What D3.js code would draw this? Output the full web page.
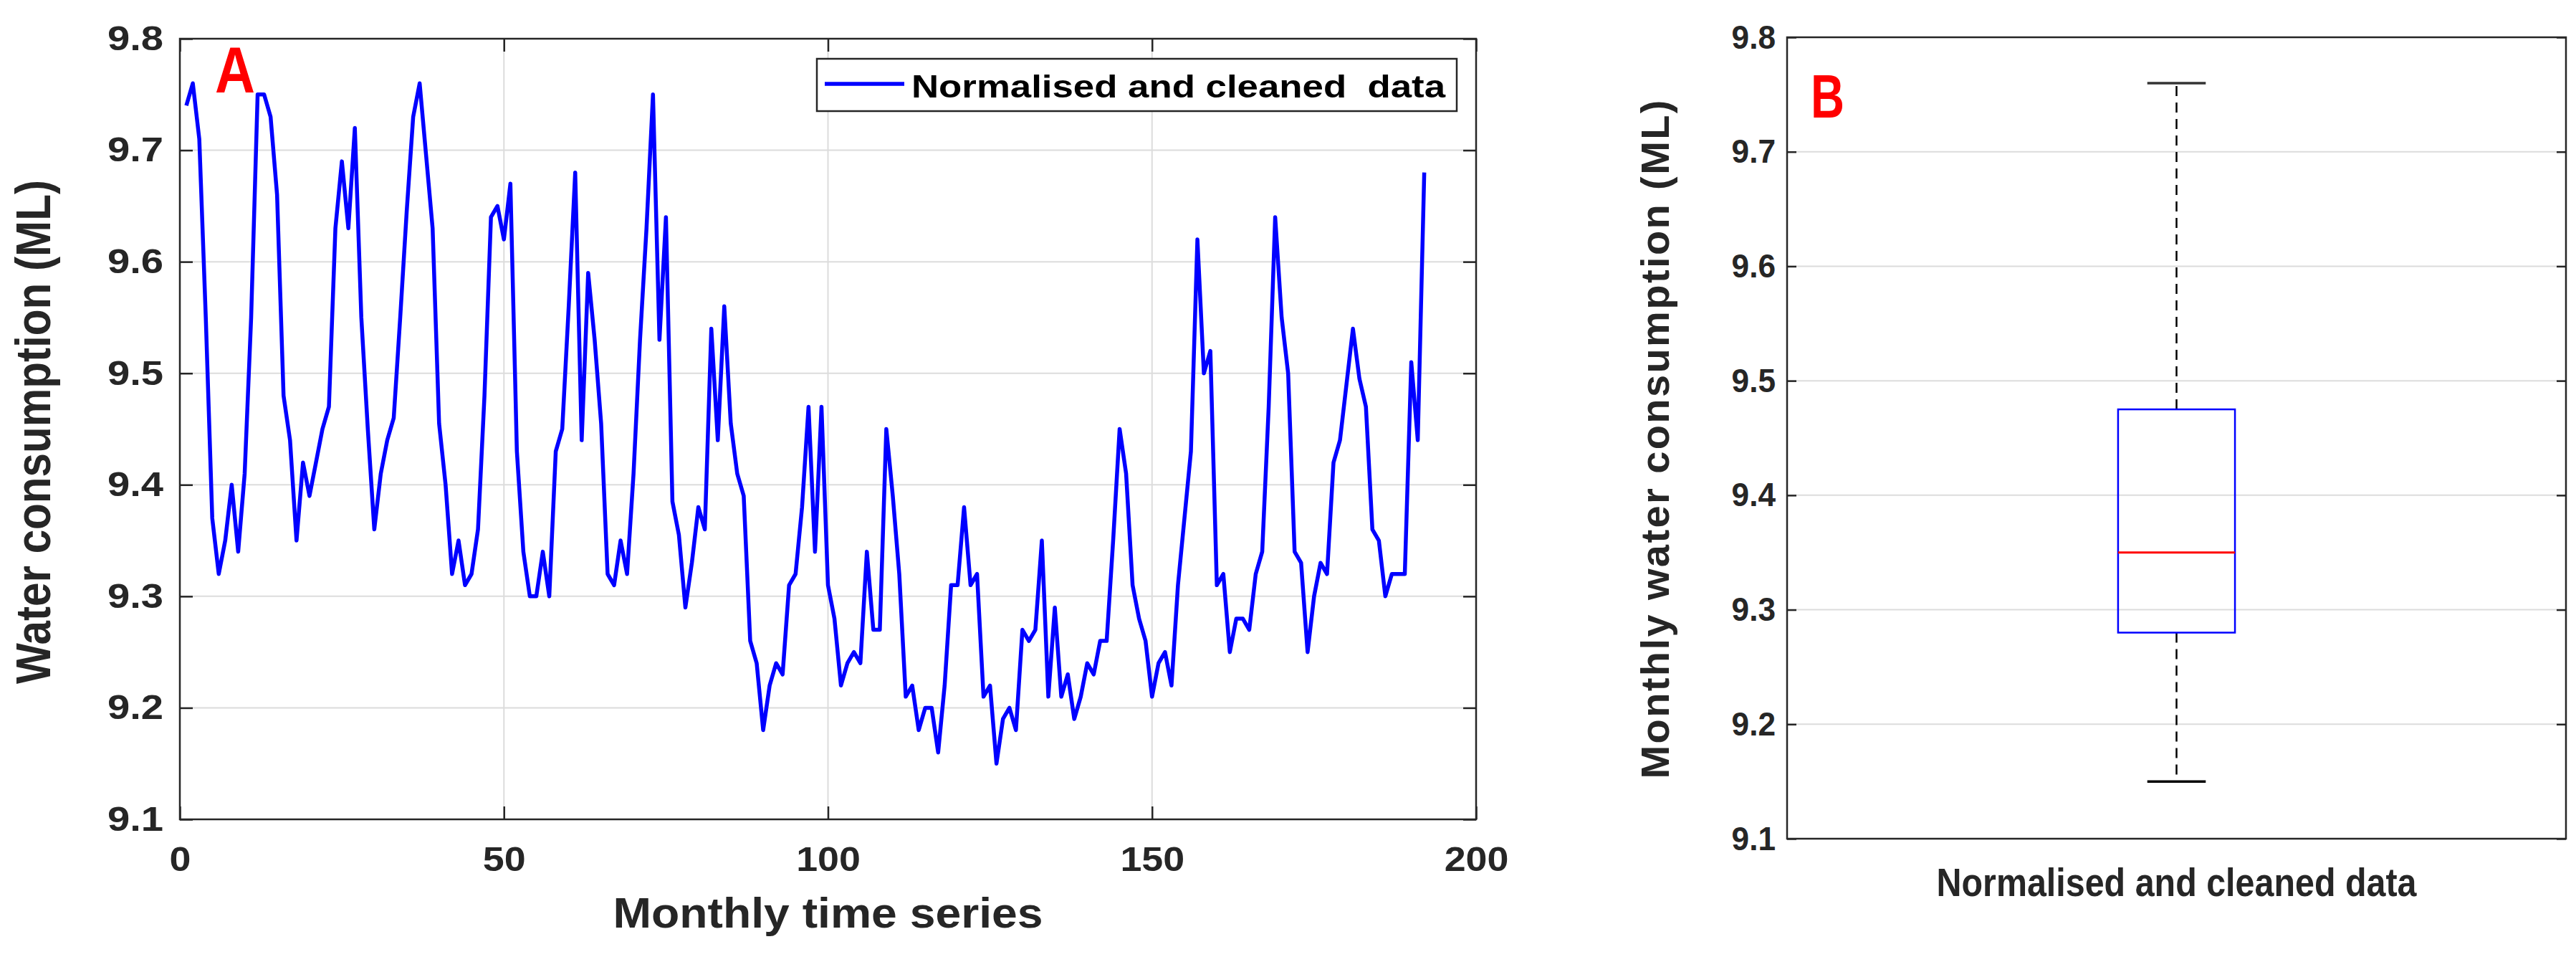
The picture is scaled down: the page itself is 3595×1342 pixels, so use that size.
<!DOCTYPE html>
<html>
<head>
<meta charset="utf-8">
<script src="https://cdn.jsdelivr.net/npm/d3@7"></script>
<style>
  html, body { margin: 0; padding: 0; background: #fff; }
  svg { display: block; }
  text { font-family: "Liberation Sans", Arial, Helvetica, sans-serif; font-weight: bold; }
</style>
</head>
<body>
<svg id="chart" width="3595" height="1342"></svg>
<script>
// ---------------- DATA ----------------
const seriesName = "Normalised and cleaned  data";
const boxCategory = ["Normalised and cleaned data"];
const months = d3.range(1, 193);
const consumption = [
  9.74, 9.76, 9.71, 9.55, 9.37, 9.32, 9.35, 9.40, 9.34, 9.41,
  9.55, 9.75, 9.75, 9.73, 9.66, 9.48, 9.44, 9.35, 9.42, 9.39,
  9.42, 9.45, 9.47, 9.63, 9.69, 9.63, 9.72, 9.55, 9.45, 9.36,
  9.41, 9.44, 9.46, 9.55, 9.645, 9.73, 9.76, 9.695, 9.63, 9.455,
  9.40, 9.32, 9.35, 9.31, 9.32, 9.36, 9.48, 9.64, 9.65, 9.62,
  9.67, 9.43, 9.34, 9.30, 9.30, 9.34, 9.30, 9.43, 9.45, 9.56,
  9.68, 9.44, 9.59, 9.53, 9.455, 9.32, 9.31, 9.35, 9.32, 9.41,
  9.53, 9.63, 9.75, 9.53, 9.64, 9.385, 9.355, 9.29, 9.33, 9.38,
  9.36, 9.54, 9.44, 9.56, 9.455, 9.41, 9.39, 9.26, 9.24, 9.18,
  9.22, 9.24, 9.23, 9.31, 9.32, 9.38, 9.47, 9.34, 9.47, 9.31,
  9.28, 9.22, 9.24, 9.25, 9.24, 9.34, 9.27, 9.27, 9.45, 9.39,
  9.32, 9.21, 9.22, 9.18, 9.20, 9.20, 9.16, 9.22, 9.31, 9.31,
  9.38, 9.31, 9.32, 9.21, 9.22, 9.15, 9.19, 9.20, 9.18, 9.27,
  9.26, 9.27, 9.35, 9.21, 9.29, 9.21, 9.23, 9.19, 9.21, 9.24,
  9.23, 9.26, 9.26, 9.35, 9.45, 9.41, 9.31, 9.28, 9.26, 9.21,
  9.24, 9.25, 9.22, 9.31, 9.37, 9.43, 9.62, 9.50, 9.52, 9.31,
  9.32, 9.25, 9.28, 9.28, 9.27, 9.32, 9.34, 9.47, 9.64, 9.55,
  9.50, 9.34, 9.33, 9.25, 9.30, 9.33, 9.32, 9.42, 9.44, 9.49,
  9.54, 9.495, 9.47, 9.36, 9.35, 9.30, 9.32, 9.32, 9.32, 9.51,
  9.44, 9.68
];
// box plot statistics
const boxMin = [9.15];
const boxQ1 = [9.28];
const boxMedian = [9.35];
const boxQ3 = [9.475];
const boxMax = [9.76];

const xTicksA = [0, 50, 100, 150, 200];
const yTicks = [9.1, 9.2, 9.3, 9.4, 9.5, 9.6, 9.7, 9.8];

// ---------------- STYLE ----------------
const axisColor = "#262626";
const gridColor = "#dcdcdc";
const svg = d3.select("#chart");

function stretch(sel, factor) {
  sel.each(function () {
    const len = this.getComputedTextLength();
    d3.select(this).attr("textLength", len * factor).attr("lengthAdjust", "spacingAndGlyphs");
  });
}
function fit(sel, len, mode) {
  sel.attr("textLength", len).attr("lengthAdjust", mode || "spacingAndGlyphs");
}

// ================= PANEL A =================
const A = { l: 251, r: 2060, t: 54, b: 1143 };
const xA = d3.scaleLinear().domain([0, 200]).range([A.l, A.r]);
const yA = d3.scaleLinear().domain([9.1, 9.8]).range([A.b, A.t]);

const gA = svg.append("g");
// grid
gA.append("g").selectAll("line.gx").data(xTicksA.slice(1, -1)).join("line")
  .attr("x1", d => xA(d)).attr("x2", d => xA(d)).attr("y1", A.t).attr("y2", A.b)
  .attr("stroke", gridColor).attr("stroke-width", 2);
gA.append("g").selectAll("line.gy").data(yTicks.slice(1, -1)).join("line")
  .attr("y1", d => yA(d)).attr("y2", d => yA(d)).attr("x1", A.l).attr("x2", A.r)
  .attr("stroke", gridColor).attr("stroke-width", 2);

// line
gA.append("path")
  .datum(months.map((m, i) => [m, consumption[i]]))
  .attr("fill", "none").attr("stroke", "#0000ff").attr("stroke-width", 5.5)
  .attr("stroke-linejoin", "round")
  .attr("d", d3.line().x(d => xA(d[0])).y(d => yA(d[1])));

// axes
const tickA = 18;
const axB = gA.append("g").attr("transform", `translate(0,${A.b})`)
  .call(d3.axisBottom(xA).tickValues(xTicksA).tickSizeInner(-tickA).tickSizeOuter(0).tickPadding(38));
const axL = gA.append("g").attr("transform", `translate(${A.l},0)`)
  .call(d3.axisLeft(yA).tickValues(yTicks).tickFormat(d3.format(".1f")).tickSizeInner(-tickA).tickSizeOuter(0).tickPadding(23));
const axT = gA.append("g").attr("transform", `translate(0,${A.t})`)
  .call(d3.axisTop(xA).tickValues(xTicksA).tickFormat("").tickSizeInner(-tickA).tickSizeOuter(0));
const axR = gA.append("g").attr("transform", `translate(${A.r},0)`)
  .call(d3.axisRight(yA).tickValues(yTicks).tickFormat("").tickSizeInner(-tickA).tickSizeOuter(0));
[axB, axL, axT, axR].forEach(g => {
  g.select(".domain").remove();
  g.selectAll(".tick line").attr("stroke", axisColor).attr("stroke-width", 2.5);
  g.selectAll(".tick text").attr("fill", axisColor).attr("font-size", 48)
    .attr("font-family", '"Liberation Sans", Arial, sans-serif').attr("font-weight", "bold");
});
stretch(axB.selectAll(".tick text"), 1.12);
stretch(axL.selectAll(".tick text"), 1.17);

gA.append("rect").attr("x", A.l).attr("y", A.t).attr("width", A.r - A.l).attr("height", A.b - A.t)
  .attr("fill", "none").attr("stroke", axisColor).attr("stroke-width", 2.5);

// titles
gA.append("text").attr("x", (A.l + A.r) / 2).attr("y", 1294).attr("text-anchor", "middle")
  .attr("font-size", 59).attr("fill", axisColor).text("Monthly time series")
  .call(fit, 600);
gA.append("text").attr("transform", `translate(70,${(A.t + A.b) / 2 + 4}) rotate(-90)`)
  .attr("text-anchor", "middle").attr("font-size", 68).attr("fill", axisColor)
  .text("Water consumption (ML)").call(fit, 703);

// panel letter
gA.append("text").attr("x", 300).attr("y", 129).attr("font-size", 90).attr("fill", "#ff0000")
  .text("A").call(fit, 56);

// legend
const lg = gA.append("g");
lg.append("rect").attr("x", 1140).attr("y", 82).attr("width", 893).attr("height", 73)
  .attr("fill", "#fff").attr("stroke", axisColor).attr("stroke-width", 2.5);
lg.append("line").attr("x1", 1151).attr("x2", 1262).attr("y1", 117).attr("y2", 117)
  .attr("stroke", "#0000ff").attr("stroke-width", 5.5);
lg.append("text").attr("x", 1272).attr("y", 136).attr("font-size", 45).attr("fill", "#000")
  .attr("xml:space", "preserve").style("white-space", "pre")
  .text(seriesName).call(fit, 745);

// ================= PANEL B =================
const B = { l: 2494, r: 3581, t: 52, b: 1170 };
const xB = d3.scaleBand().domain(boxCategory).range([B.l, B.r]).padding(0.739);
const yB = d3.scaleLinear().domain([9.1, 9.8]).range([B.b, B.t]);
const gB = svg.append("g");

gB.append("g").selectAll("line").data(yTicks.slice(1, -1)).join("line")
  .attr("x1", B.l).attr("x2", B.r).attr("y1", d => yB(d)).attr("y2", d => yB(d))
  .attr("stroke", gridColor).attr("stroke-width", 2);

const tickB = 13;
const bL = gB.append("g").attr("transform", `translate(${B.l},0)`)
  .call(d3.axisLeft(yB).tickValues(yTicks).tickFormat(d3.format(".1f")).tickSizeInner(-tickB).tickSizeOuter(0).tickPadding(16));
const bR = gB.append("g").attr("transform", `translate(${B.r},0)`)
  .call(d3.axisRight(yB).tickValues(yTicks).tickFormat("").tickSizeInner(-tickB).tickSizeOuter(0));
[bL, bR].forEach(g => {
  g.select(".domain").remove();
  g.selectAll(".tick line").attr("stroke", axisColor).attr("stroke-width", 2.5);
  g.selectAll(".tick text").attr("fill", axisColor).attr("font-size", 47)
    .attr("font-family", '"Liberation Sans", Arial, sans-serif').attr("font-weight", "bold");
});
stretch(bL.selectAll(".tick text"), 0.94);

// box plot
const boxes = boxCategory.map((c, i) => ({ c, min: boxMin[i], q1: boxQ1[i], med: boxMedian[i], q3: boxQ3[i], max: boxMax[i] }));
const bw = xB.bandwidth();
const bg = gB.selectAll("g.box").data(boxes).join("g");
bg.append("line").attr("x1", d => xB(d.c) + bw / 2).attr("x2", d => xB(d.c) + bw / 2)
  .attr("y1", d => yB(d.q3)).attr("y2", d => yB(d.max))
  .attr("stroke", "#000").attr("stroke-width", 2.5).attr("stroke-dasharray", "14,9");
bg.append("line").attr("x1", d => xB(d.c) + bw / 2).attr("x2", d => xB(d.c) + bw / 2)
  .attr("y1", d => yB(d.q1)).attr("y2", d => yB(d.min))
  .attr("stroke", "#000").attr("stroke-width", 2.5).attr("stroke-dasharray", "14,9");
bg.append("line").attr("x1", d => xB(d.c) + bw / 4).attr("x2", d => xB(d.c) + bw * 3 / 4)
  .attr("y1", d => yB(d.max)).attr("y2", d => yB(d.max)).attr("stroke", "#333").attr("stroke-width", 3.5);
bg.append("line").attr("x1", d => xB(d.c) + bw / 4).attr("x2", d => xB(d.c) + bw * 3 / 4)
  .attr("y1", d => yB(d.min)).attr("y2", d => yB(d.min)).attr("stroke", "#000").attr("stroke-width", 3.5);
bg.append("rect").attr("x", d => xB(d.c)).attr("width", bw)
  .attr("y", d => yB(d.q3)).attr("height", d => yB(d.q1) - yB(d.q3))
  .attr("fill", "none").attr("stroke", "#0000ff").attr("stroke-width", 2.5);
bg.append("line").attr("x1", d => xB(d.c)).attr("x2", d => xB(d.c) + bw)
  .attr("y1", d => yB(d.med)).attr("y2", d => yB(d.med)).attr("stroke", "#ff0000").attr("stroke-width", 3);

gB.append("rect").attr("x", B.l).attr("y", B.t).attr("width", B.r - B.l).attr("height", B.b - B.t)
  .attr("fill", "none").attr("stroke", axisColor).attr("stroke-width", 2.5);

gB.append("text").attr("x", xB(boxCategory[0]) + bw / 2).attr("y", 1250).attr("text-anchor", "middle")
  .attr("font-size", 56).attr("fill", axisColor).text(boxCategory[0]).call(fit, 670);
gB.append("text").attr("transform", `translate(2329,${(B.t + B.b) / 2 + 2}) rotate(-90)`)
  .attr("text-anchor", "middle").attr("font-size", 56).attr("fill", axisColor)
  .text("Monthly water consumption (ML)").call(fit, 947, "spacing");
gB.append("text").attr("x", 2527).attr("y", 164).attr("font-size", 86).attr("fill", "#ff0000")
  .text("B").call(fit, 47);
</script>
</body>
</html>
